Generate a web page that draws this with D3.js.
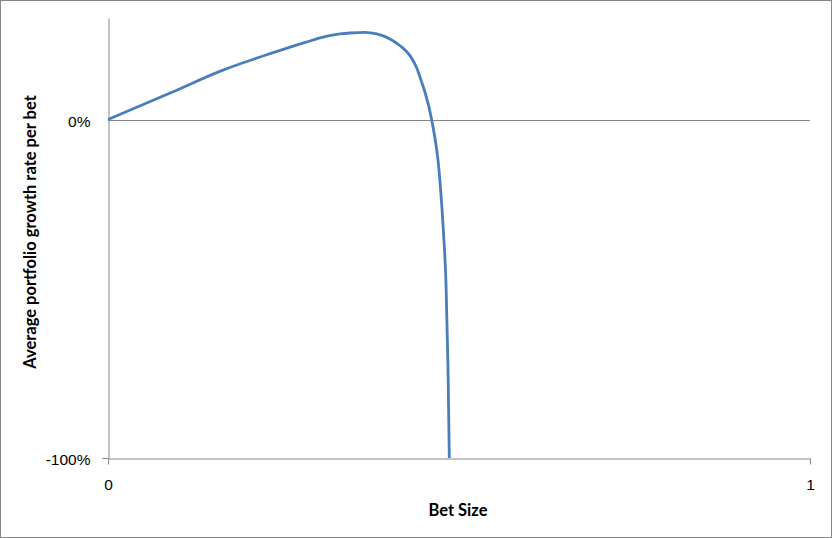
<!DOCTYPE html>
<html>
<head>
<meta charset="utf-8">
<script src="https://cdn.jsdelivr.net/npm/d3@7"></script>
<style>
  html, body { margin: 0; padding: 0; background: #fff; }
  svg { display: block; font-family: Lato, "Open Sans", sans-serif; }
</style>
</head>
<body>
<svg id="chart" width="832" height="538"></svg>
<script>
// values
const betSize = [0, 0.091, 0.162, 0.233, 0.281, 0.309,
  0.3305, 0.3447, 0.366, 0.3828, 0.4017, 0.416, 0.4302, 0.4397, 0.4469, 0.4516,
  0.461, 0.472, 0.478, 0.4815, 0.4843, 0.4862];
const growthRate = [0, 0.0806, 0.1445, 0.196, 0.228, 0.245,
  0.2528, 0.2557, 0.2575, 0.2528, 0.238, 0.218, 0.1888, 0.1529, 0.110, 0.0806,
  0, -0.16, -0.337, -0.485, -0.73, -1.0];
const xTicks = [0, 1];
const yTicks = [-1, 0];
const xLabel = 'Bet Size';
const yLabel = 'Average portfolio growth rate per bet';

const width = 832, height = 538;
const margin = { top: 18, right: 22, bottom: 80, left: 108 };
const chartWidth = width - margin.left - margin.right;
const chartHeight = height - margin.top - margin.bottom;
const axisColor = '#868686';

const svg = d3.select('#chart');

// outer frame
svg.append('rect')
  .attr('x', 0.5).attr('y', 0.5)
  .attr('width', width - 1).attr('height', height - 1)
  .attr('fill', '#fff')
  .attr('stroke', axisColor);

const x = d3.scaleLinear().domain([0, 1]).range([0, chartWidth]);
const y = d3.scaleLinear().domain([-1, 0.3]).range([chartHeight, 0]);

const group = svg.append('g')
  .attr('transform', `translate(${margin.left},${margin.top})`);

// zero line
group.append('line')
  .attr('x1', x(0)).attr('x2', x(1))
  .attr('y1', Math.round(y(0)) + 0.5).attr('y2', Math.round(y(0)) + 0.5)
  .attr('stroke', axisColor);

const yAxis = d3.axisLeft(y)
  .tickValues(yTicks)
  .tickSizeInner(6)
  .tickSizeOuter(0)
  .tickPadding(12)
  .tickFormat(d => Math.round(d * 100) + '%');

const yg = group.append('g')
  .attr('transform', 'translate(0.5,0)')
  .call(yAxis);
yg.select('.domain').attr('stroke', axisColor);
yg.selectAll('.tick line').attr('stroke', axisColor)
  .filter(d => d === 0).remove();
yg.selectAll('.tick text')
  .attr('fill', '#000')
  .style('font-size', '15.5px')
  .attr('dy', '0.42em');

const xAxis = d3.axisBottom(x)
  .tickValues(xTicks)
  .tickSizeInner(6)
  .tickSizeOuter(0)
  .tickPadding(14)
  .tickFormat(d3.format('d'));

const xg = group.append('g')
  .attr('transform', `translate(0,${chartHeight + 0.5})`)
  .call(xAxis);
xg.select('.domain').attr('stroke', axisColor);
xg.selectAll('.tick line').attr('stroke', axisColor);
xg.selectAll('.tick text')
  .attr('fill', '#000')
  .style('font-size', '15.5px');

// the curve
const data = betSize.map((b, i) => ({ b, g: growthRate[i] }));
const line = d3.line()
  .x(d => x(d.b))
  .y(d => y(d.g))
  .curve(d3.curveMonotoneX);

group.append('path')
  .datum(data)
  .attr('fill', 'none')
  .attr('stroke', '#4A7EBB')
  .attr('stroke-width', 2.8)
  .attr('stroke-linejoin', 'round')
  .attr('d', line);

// axis titles
svg.append('text')
  .attr('x', 458)
  .attr('y', 516)
  .attr('text-anchor', 'middle')
  .style('font-size', '16.5px')
  .style('font-weight', 'bold')
  .text(xLabel);

svg.append('text')
  .attr('transform', 'translate(36,232) rotate(-90)')
  .attr('text-anchor', 'middle')
  .style('font-size', '16.5px')
  .style('font-weight', 'bold')
  .text(yLabel);
</script>
</body>
</html>
